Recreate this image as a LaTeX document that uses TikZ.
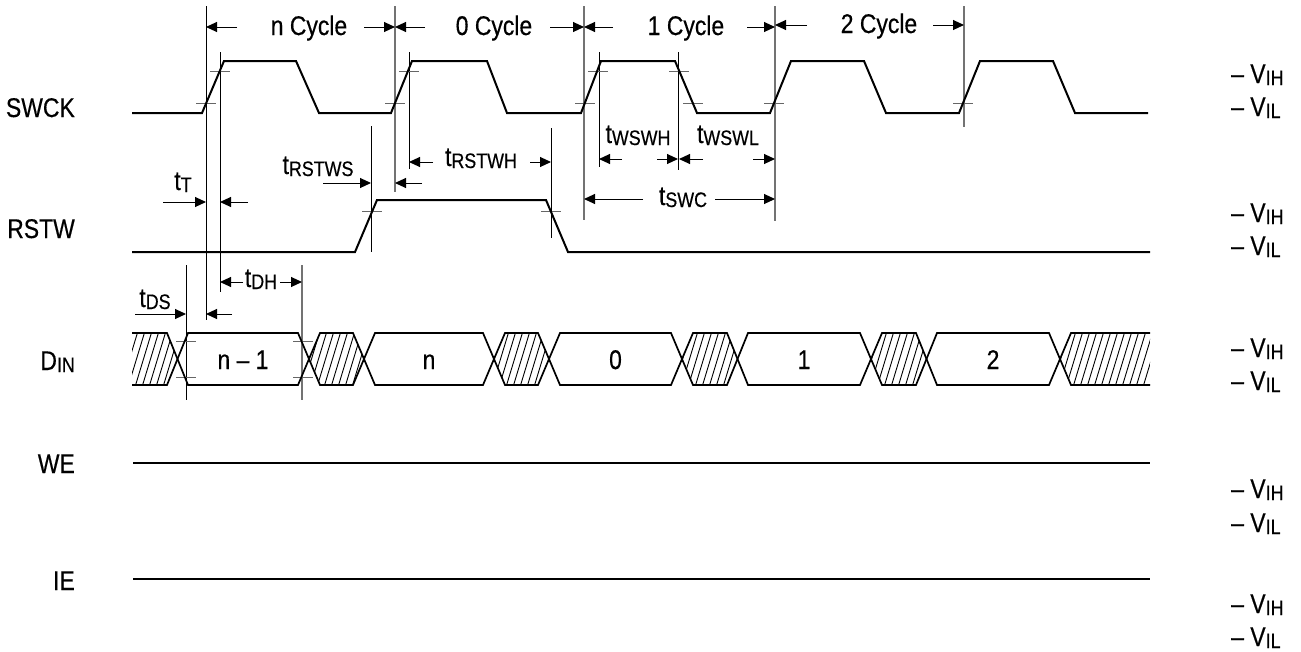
\documentclass[tikz,border=0pt]{standalone}
\usepackage{fontspec}
\setmainfont{Liberation Sans}[FakeStretch=0.85,FakeBold=0.4]
\usetikzlibrary{arrows.meta}
\newcommand{\sbs}[1]{\raisebox{-2pt}{\fontsize{21}{21}\selectfont #1}}
\newcommand{\hatchlines}{\foreach \hx in {100,107,...,1170} {\draw[hatch] (\hx,387)--++(17,-56);}}
\begin{document}
\begin{tikzpicture}[x=1pt,y=-1pt,
  sig/.style={line width=2pt,line join=miter},
  dinl/.style={line width=1.7pt,line join=miter},
  hatch/.style={line width=0.9pt},
  refk/.style={line width=0.9pt,black},
  refg/.style={line width=1.1pt,black!55},
  tickm/.style={line width=1pt,black!60},
  dim/.style={line width=1pt,-{Triangle[length=11pt,width=10pt]}},
  lbl/.style={font=\fontsize{27}{32}\selectfont,inner sep=0pt}]
\useasboundingbox (0,0) rectangle (1301,651);
\fill[white] (0,0) rectangle (1301,651);

% ---------- signal names ----------
\node[lbl,anchor=base east] (nswck) at (75,117) {SWCK};
\node[lbl,anchor=base east] (nrstw) at (75,238) {RSTW};
\node[lbl,anchor=base east] (ndin) at (75,370) {D\sbs{IN}};
\node[lbl,anchor=base east] (nwe) at (75,473) {WE};
\node[lbl,anchor=base east] (nie) at (75,590) {IE};

% ---------- level labels ----------
\foreach \nm/\yh/\yl in {a/83/116, b/222/255, c/357/390, d/498/532, e/613/646}{
  \node[lbl,anchor=base west] (vih\nm) at (1231,\yh) {– V\sbs{IH}};
  \node[lbl,anchor=base west] (vil\nm) at (1231,\yl) {– V\sbs{IL}};
}

% ---------- reference lines ----------
\draw[refk] (206,6) -- (206,320);
\draw[refk] (220,52) -- (220,292);
\draw[refg] (395,6) -- (395,192);
\draw[refk] (409,52) -- (409,169);
\draw[refk] (371,126) -- (371,252);
\draw[refk] (551,128) -- (551,238);
\draw[refg] (584,6) -- (584,220);
\draw[refk] (599,52) -- (599,167);
\draw[refk] (678,52) -- (678,170);
\draw[refg] (775,6) -- (775,221);
\draw[refg] (964,6) -- (964,127);
\draw[refk] (186,265) -- (186,400);
\draw[refg] (302,265) -- (302,400);

% ---------- ticks ----------
\foreach \tx in {220,409,598,679} \draw[tickm] (\tx-10,71) -- (\tx+10,71);
\foreach \tx in {206,395,585,693,774,963} \draw[tickm] (\tx-10,103) -- (\tx+10,103);
\foreach \tx in {372,551} \draw[tickm] (\tx-10,211) -- (\tx+10,211);
\foreach \tx in {186,303} {\draw[tickm] (\tx-10,341) -- (\tx+10,341);
  \draw[tickm] (\tx-10,377) -- (\tx+10,377);}

% ---------- SWCK ----------
\draw[sig] (132,113) -- (202,113) -- (224,61) -- (296,61) -- (319,113) -- (391,113)
  -- (412,61) -- (487,61) -- (507,113) -- (581,113) -- (601,61) -- (675,61)
  -- (697,113) -- (770,113) -- (791,61) -- (864,61) -- (886,113) -- (959,113)
  -- (980,61) -- (1053,61) -- (1075,113) -- (1148,113);

% ---------- RSTW ----------
\draw[sig] (132,252) -- (355,252) -- (377,200) -- (546,200) -- (568,252) -- (1150,252);

% ---------- WE / IE ----------
\draw[sig] (133,463) -- (1150,463);
\draw[sig] (133,579) -- (1150,579);

% ---------- DIN hatched regions ----------
\begin{scope}\clip (132,333)--(167,333)--(177.5,359)--(167,385)--(132,385)--cycle; \hatchlines \end{scope}
\draw[dinl] (132,333)--(167,333)--(177.5,359)--(167,385)--(132,385);
\foreach \a/\b/\c/\d in {309/320/353/364, 494/505/538/549, 682/693/727/737.5, 871/882/916/926.5}{
  \begin{scope}\clip (\a,359)--(\b,333)--(\c,333)--(\d,359)--(\c,385)--(\b,385)--cycle; \hatchlines \end{scope}
  \draw[dinl] (\a,359)--(\b,333)--(\c,333)--(\d,359)--(\c,385)--(\b,385)--cycle;
}
\begin{scope}\clip (1150,333)--(1071,333)--(1060,359)--(1071,385)--(1150,385)--cycle; \hatchlines \end{scope}
\draw[dinl] (1150,333)--(1071,333)--(1060,359)--(1071,385)--(1150,385);

% ---------- DIN data segments ----------
\foreach \a/\b/\c/\d/\t/\nm in {177.5/188/298/309/{n – 1}/dnm1, 364/375/483/494/n/dn, 549/560/671/682/0/d0, 737.5/748/860/871/1/d1, 926.5/937/1049/1060/2/d2}{
  \draw[dinl] (\a,359)--(\b,333)--(\c,333)--(\d,359)--(\c,385)--(\b,385)--cycle;
  \node[lbl,anchor=base] (\nm) at ({(\b+\c)/2},369) {\t};
}

% ---------- cycle dimensions ----------
\node[lbl,anchor=base] (cn) at (309,35) {n Cycle};
\draw[dim] (237,27) -- (206,27);
\draw[dim] (364,27) -- (395,27);
\node[lbl,anchor=base] (c0) at (494,35) {0 Cycle};
\draw[dim] (425,27) -- (395,27);
\draw[dim] (550,27) -- (584,27);
\node[lbl,anchor=base] (c1) at (686,35) {1 Cycle};
\draw[dim] (613,27) -- (584,27);
\draw[dim] (747,27) -- (775,27);
\node[lbl,anchor=base] (c2) at (879,33) {2 Cycle};
\draw[dim] (807,25) -- (775,25);
\draw[dim] (933,25) -- (964,25);

% ---------- timing labels ----------
\node[lbl,anchor=base] (tt) at (183,190) {t\sbs{T}};
\draw[dim] (163,202) -- (206,202);
\draw[dim] (248,202) -- (220,202);

\node[lbl,anchor=base] (trstws) at (318,174) {t\sbs{RSTWS}};
\draw[dim] (323,183) -- (371,183);
\draw[dim] (422,183) -- (395,183);

\node[lbl,anchor=base] (trstwh) at (481,166) {t\sbs{RSTWH}};
\draw[dim] (433,162) -- (409,162);
\draw[dim] (530,162) -- (551,162);

\node[lbl,anchor=base] (tdh) at (261,287) {t\sbs{DH}};
\draw[dim] (243,282) -- (220,282);
\draw[dim] (280,282) -- (302,282);

\node[lbl,anchor=base] (tds) at (155,307) {t\sbs{DS}};
\draw[dim] (135,314) -- (186,314);
\draw[dim] (232,314) -- (206,314);

\node[lbl,anchor=base] (twswh) at (638,143) {t\sbs{WSWH}};
\draw[dim] (622,159) -- (599,159);
\draw[dim] (657,159) -- (678,159);

\node[lbl,anchor=base] (twswl) at (728,143) {t\sbs{WSWL}};
\draw[dim] (703,159) -- (679,159);
\draw[dim] (753,159) -- (775,159);

\node[lbl,anchor=base] (tswc) at (683,205) {t\sbs{SWC}};
\draw[dim] (643,199) -- (584,199);
\draw[dim] (715,199) -- (775,199);
\end{tikzpicture}
\end{document}
